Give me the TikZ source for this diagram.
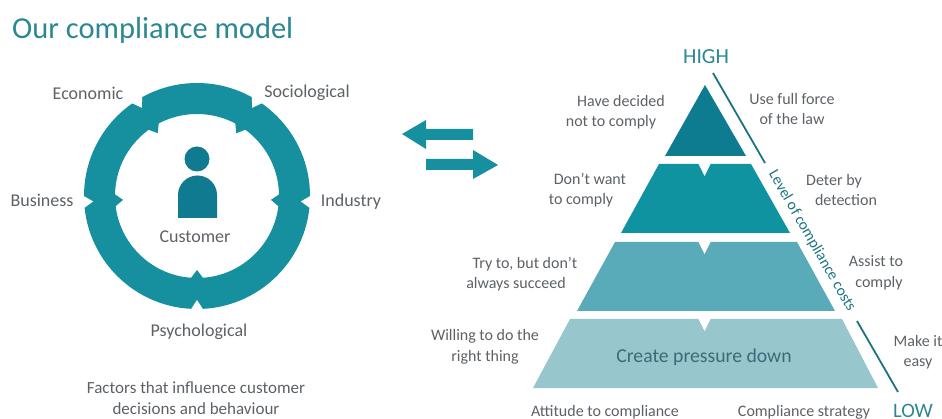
\documentclass[tikz,border=0pt]{standalone}
\usepackage{fontspec}
\setmainfont{Carlito}
\usetikzlibrary{calc}
\definecolor{ringteal}{HTML}{16909F}
\definecolor{persondark}{HTML}{0F7A90}
\definecolor{tierone}{HTML}{0E7C90}
\definecolor{tiertwo}{HTML}{0F93A1}
\definecolor{tierthree}{HTML}{59ABB9}
\definecolor{tierfour}{HTML}{97C6CD}
\definecolor{linedark}{HTML}{1B7480}
\definecolor{headteal}{HTML}{2B8793}
\definecolor{greytext}{HTML}{5C6166}
\definecolor{pressuretext}{HTML}{3C6B78}
\tikzset{
  lbl/.style={inner sep=0pt,align=center,text=greytext,font=\fontsize{16}{20.5}\selectfont},
  ringlbl/.style={lbl,font=\fontsize{18}{22}\selectfont},
  headlbl/.style={inner sep=0pt,text=headteal},
  costline/.style={draw=linedark,line width=1.8pt},
  notchw/.style={fill=white}
}
\begin{document}
\begin{tikzpicture}[x=1pt,y=-1pt]
\useasboundingbox (0,0) rectangle (942,419);
\node[headlbl,anchor=west,font=\fontsize{30.5}{36}\selectfont] (titlelbl) at (12,30) {Our compliance model};
% ring of factors
\coordinate (ringc) at (197,196);
\fill[ringteal,even odd rule] (ringc) circle (113) (ringc) circle (82);
\foreach \ang in {-122,-58,3,90,177}{
  \fill[white] ($(ringc)+(\ang-3.5:115)$) -- ($(ringc)+(\ang:104)$) -- ($(ringc)+(\ang+3.5:115)$) -- cycle;
  \fill[ringteal] ($(ringc)+(\ang-5:84)$) -- ($(ringc)+(\ang:74)$) -- ($(ringc)+(\ang+5:84)$) -- cycle;
}
% person
\fill[persondark] (197,159) circle (12.5);
\fill[persondark] (178,218) -- (178,195) arc[start angle=180,end angle=360,radius=19.5] -- (217,218) -- cycle;
\node[ringlbl] (customer) at (195,237) {Customer};
\node[ringlbl] (economic) at (88,93) {Economic};
\node[ringlbl] (sociological) at (307,93) {Sociological};
\node[ringlbl] (business) at (42,200) {Business};
\node[ringlbl] (industry) at (351,202) {Industry};
\node[ringlbl] (psychological) at (199,332) {Psychological};
\node[lbl,font=\fontsize{17}{21}\selectfont] (factors) at (196,398) {Factors that influence customer\\decisions and behaviour};
% arrows between
\fill[ringteal] (402,134) -- (426,120) -- (426,129) -- (473,129) -- (473,140) -- (426,140) -- (426,149) -- cycle;
\fill[ringteal] (498,165) -- (473,150) -- (473,159) -- (426,159) -- (426,170) -- (473,170) -- (473,179) -- cycle;
% pyramid
\fill[tierone] (705,85) -- (746,156) -- (665,156) -- cycle;
\fill[tiertwo] (659,164) -- (751,164) -- (790,233) -- (621,233) -- cycle;
\fill[tierthree] (615,242) -- (797,242) -- (835,311) -- (577,311) -- cycle;
\fill[tierfour] (570,319) -- (842,319) -- (878,388) -- (533,388) -- cycle;
\foreach \ytop in {164,242,319}{
  \fill[notchw] (698,\ytop-1) -- (711,\ytop-1) -- (704.5,\ytop+12) -- cycle;
}
\node[inner sep=0pt,text=pressuretext,font=\fontsize{19.7}{24}\selectfont] (pressure) at (704,357) {Create pressure down};
% cost line
\node[headlbl,font=\fontsize{21.5}{24}\selectfont] (high) at (706,57) {HIGH};
\node[headlbl,font=\fontsize{20.5}{24}\selectfont] (low) at (913,411) {LOW};
\coordinate (linea) at (713,73);
\coordinate (lineb) at (765,163);
\coordinate (linec) at (857,321);
\coordinate (lined) at (898,392);
\draw[costline] (linea) -- (lineb);
\draw[costline] (linec) -- (lined);
\node[inner sep=0pt,rotate=-60,text=linedark,font=\fontsize{15.5}{18}\selectfont] (costs) at (812,241) {Level of compliance costs};
% left column
\node[lbl] (decided) at (611,112) {\hspace*{20pt}Have decided\\not to comply};
\node[lbl] (dontwant) at (581,190) {\hspace*{18pt}Don't want\\to comply};
\node[lbl] (tryto) at (516,274) {\hspace*{18pt}Try to, but don't\\always succeed};
\node[lbl] (willing) at (485,347) {Willing to do the\\right thing};
\node[lbl] (attitude) at (605,412) {Attitude to compliance};
% right column
\node[lbl] (fullforce) at (792,109) {Use full force\\of the law};
\node[lbl] (deter) at (846,190) {Deter by\hspace*{24pt}\\detection};
\node[lbl] (assist) at (879,273) {Assist to\hspace*{6pt}\\comply};
\node[lbl] (makeit) at (918,352) {Make it\\easy};
\node[lbl] (strategy) at (804,412) {Compliance strategy};
\end{tikzpicture}
\end{document}
